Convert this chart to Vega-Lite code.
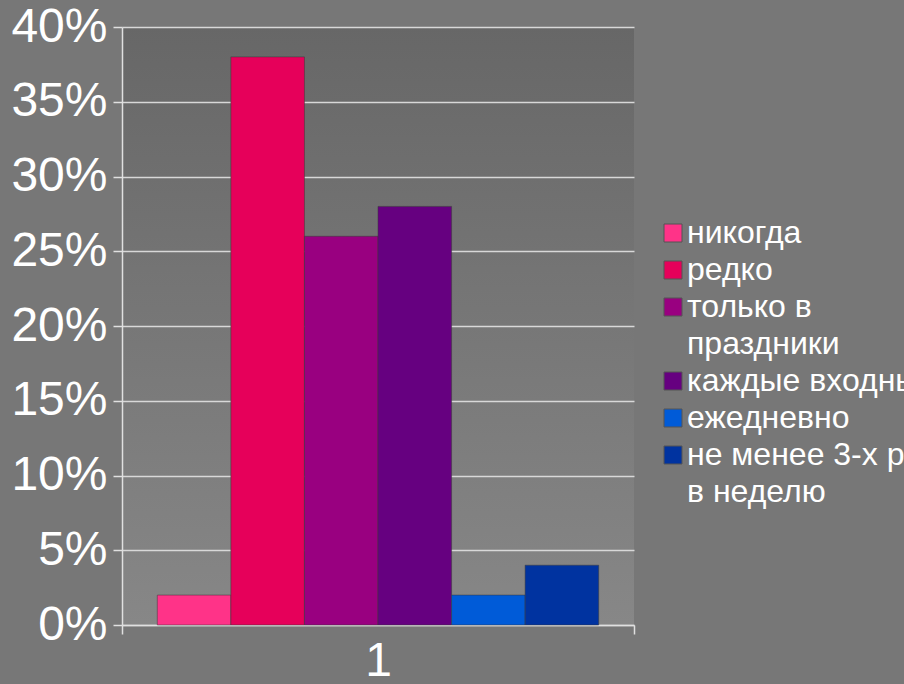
{
  "$schema": "https://vega.github.io/schema/vega-lite/v6.json",
  "width": 512,
  "height": 598,
  "autosize": {"type": "none"},
  "padding": {"left": 122, "top": 27, "right": 270, "bottom": 59},
  "background": "#777777",
  "config": {
    "font": "Liberation Sans",
    "view": {
      "stroke": null,
      "fill": {
        "gradient": "linear", "x1": 0, "y1": 0, "x2": 0, "y2": 1,
        "stops": [{"offset": 0, "color": "#676767"}, {"offset": 1, "color": "#878787"}]
      }
    }
  },
  "data": {
    "values": [
      {"grp": "1", "answer": "никогда", "share": 0.02},
      {"grp": "1", "answer": "редко", "share": 0.38},
      {"grp": "1", "answer": "только в праздники", "share": 0.26},
      {"grp": "1", "answer": "каждые входные", "share": 0.28},
      {"grp": "1", "answer": "ежедневно", "share": 0.02},
      {"grp": "1", "answer": "не менее 3-х раз в неделю", "share": 0.04}
    ]
  },
  "mark": {"type": "bar", "stroke": "#3a3a3a", "strokeWidth": 1, "strokeOpacity": 0.5},
  "encoding": {
    "x": {
      "field": "grp", "type": "nominal",
      "scale": {"paddingInner": 0, "paddingOuter": 0},
      "axis": {
        "title": null, "labelAngle": 0, "labelFontSize": 48, "labelColor": "#ffffff",
        "labelPadding": 3, "domainColor": "#e0e0e0", "domainWidth": 1.5,
        "tickColor": "#e0e0e0", "tickWidth": 1.5, "tickSize": 9, "tickBand": "extent", "grid": false
      }
    },
    "xOffset": {
      "field": "answer", "type": "nominal",
      "sort": ["никогда", "редко", "только в праздники", "каждые входные", "ежедневно", "не менее 3-х раз в неделю"],
      "scale": {"paddingInner": 0, "paddingOuter": 0.48}
    },
    "y": {
      "field": "share", "type": "quantitative",
      "scale": {"domain": [0, 0.4]},
      "axis": {
        "title": null, "values": [0, 0.05, 0.1, 0.15, 0.2, 0.25, 0.3, 0.35, 0.4],
        "format": ".0%", "labelFontSize": 48, "labelColor": "#ffffff", "labelPadding": 6,
        "grid": true, "gridColor": "#d8d8d8", "gridWidth": 1.5,
        "domainColor": "#e0e0e0", "domainWidth": 1.5,
        "tickColor": "#e0e0e0", "tickWidth": 1.5, "tickSize": 9
      }
    },
    "color": {
      "field": "answer", "type": "nominal",
      "scale": {
        "domain": ["никогда", "редко", "только в праздники", "каждые входные", "ежедневно", "не менее 3-х раз в неделю"],
        "range": ["#ff3388", "#e6005a", "#990080", "#660080", "#005bd8", "#0033a0"]
      },
      "legend": {
        "title": null, "orient": "none", "legendX": 535, "legendY": 190, "padding": 0,
        "symbolType": "square", "symbolSize": 324, "symbolStrokeColor": "#555555", "symbolStrokeWidth": 1,
        "labelFontSize": 32, "labelColor": "#ffffff", "labelLimit": 0, "labelOffset": -2, "rowPadding": 5,
        "labelExpr": "datum.label == 'только в праздники' ? ['только в', 'праздники'] : datum.label == 'не менее 3-х раз в неделю' ? ['не менее 3-х раз', 'в неделю'] : datum.label",
        "encode": {"labels": {"update": {"lineHeight": {"value": 37}}}}
      }
    }
  }
}
